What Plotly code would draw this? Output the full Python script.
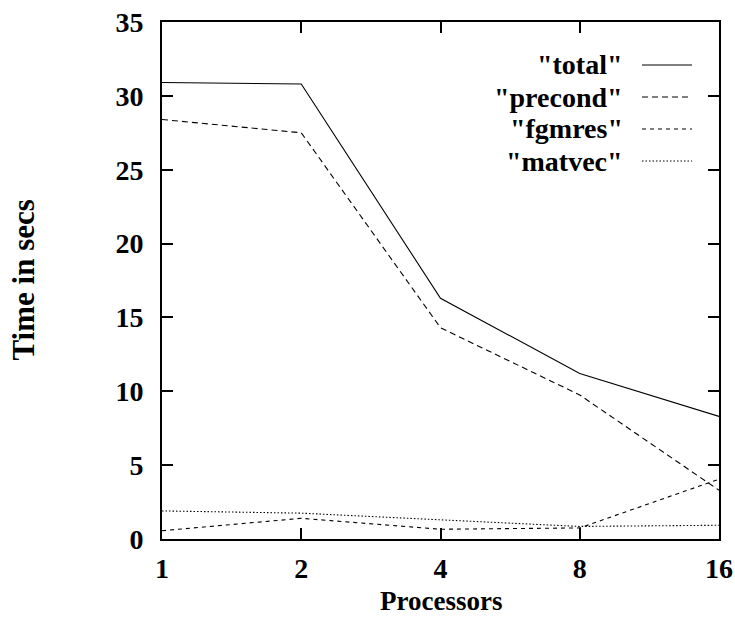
import plotly.graph_objects as go

processors = [1, 2, 4, 8, 16]
tick_labels = ["1", "2", "4", "8", "16"]
series_names = ['"total"', '"precond"', '"fgmres"', '"matvec"']
total = [30.9, 30.8, 16.3, 11.2, 8.3]
precond = [28.4, 27.5, 14.3, 9.75, 3.3]
fgmres = [0.56, 1.4, 0.66, 0.75, 4.05]
matvec = [1.9, 1.75, 1.3, 0.85, 0.93]
y_ticks = [0, 5, 10, 15, 20, 25, 30, 35]

values = [total, precond, fgmres, matvec]
dashes = ["solid", "6px,4px", "4px,4px", "1.5px,2px"]

FONT = "Liberation Serif"
FS = 28
fig = go.Figure()
for name, vals, d in zip(series_names, values, dashes):
    fig.add_trace(go.Scatter(x=processors, y=vals, mode="lines", name=name,
                             line=dict(color="black", width=1.1, dash=d),
                             showlegend=False))

# gnuplot-style legend (text right-aligned, sample to the right)
L, R, T, B = 162, 719, 22, 539
W, H = R - L, B - T
legend_rows = [65, 97, 129, 161]
for name, d, ry in zip(series_names, dashes, legend_rows):
    py = (B - ry) / H
    fig.add_annotation(xref="paper", yref="paper", x=(625 - L) / W, y=py,
                       text="<b>" + name + "</b>", showarrow=False,
                       xanchor="right", yanchor="middle",
                       font=dict(family=FONT, size=FS, color="black"))
    fig.add_shape(type="line", xref="paper", yref="paper",
                  x0=(642 - L) / W, x1=(692 - L) / W, y0=py, y1=py,
                  line=dict(color="black", width=1.1, dash=d))

fig.add_annotation(xref="paper", yref="paper", x=0.5, y=(B - 617) / H,
                   text="<b>Processors</b>", showarrow=False, borderpad=0,
                   xanchor="center", yanchor="bottom",
                   font=dict(family=FONT, size=27, color="black"))
fig.add_annotation(xref="paper", yref="paper", x=(23 - L) / W, y=0.5,
                   text="<b>Time in secs</b>", showarrow=False, textangle=-90,
                   xanchor="center", yanchor="middle",
                   font=dict(family=FONT, size=31, color="black"))

fig.update_xaxes(type="log", range=[0, 1.2041199826559248], automargin=False,
                 tickvals=processors, ticktext=["<b>%s</b>" % t for t in tick_labels],
                 ticks="inside", ticklen=11, tickwidth=1.5, tickcolor="black",
                 showline=True, linecolor="black", linewidth=2, mirror="ticks",
                 showgrid=False, zeroline=False, ticklabelstandoff=3,
                 tickfont=dict(family=FONT, size=FS, color="black"))
fig.update_yaxes(range=[0, 35], tickvals=y_ticks, automargin=False,
                 ticktext=["<b>%d</b>" % v for v in y_ticks],
                 ticks="inside", ticklen=11, tickwidth=1.5, tickcolor="black",
                 showline=True, linecolor="black", linewidth=2, mirror="ticks",
                 showgrid=False, zeroline=False, ticklabelstandoff=11,
                 tickfont=dict(family=FONT, size=FS, color="black"))

fig.update_layout(width=735, height=617, paper_bgcolor="white", plot_bgcolor="white",
                  margin=dict(l=L, r=735 - R, t=T, b=617 - B), showlegend=False)
fig.write_html("out.html")
